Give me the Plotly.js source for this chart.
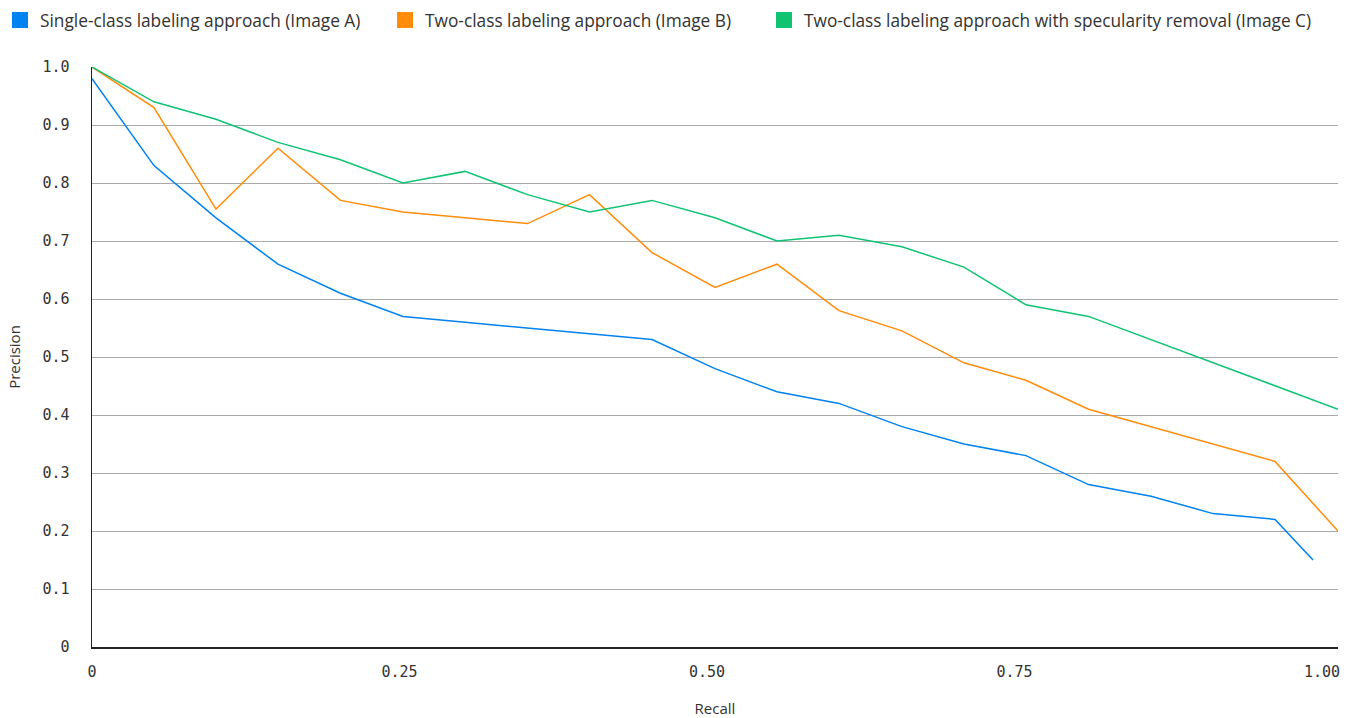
<!DOCTYPE html>
<html>
<head>
<meta charset="utf-8">
<script src="https://cdn.plot.ly/plotly-3.0.1.min.js"></script>
<style>html,body{margin:0;padding:0;background:#fff;}#chart{width:1351px;height:718px;}</style>
</head>
<body>
<div id="chart"></div>
<script>
// Recall values (x positions of the vertices)
const recall = [0, 0.0504, 0.1008, 0.1512, 0.2020, 0.2528, 0.3033, 0.3541, 0.4045, 0.4553, 0.5065, 0.5569, 0.6073, 0.6585, 0.7089, 0.7593, 0.8102, 0.8610, 0.9114, 0.9618, 1.0130];
const recallA = [0, 0.0504, 0.1008, 0.1512, 0.2020, 0.2528, 0.3033, 0.3541, 0.4045, 0.4553, 0.5065, 0.5569, 0.6073, 0.6585, 0.7089, 0.7593, 0.8102, 0.8610, 0.9114, 0.9618, 0.9927];

const precisionA = [0.98, 0.83, 0.74, 0.66, 0.61, 0.57, 0.56, 0.55, 0.54, 0.53, 0.48, 0.44, 0.42, 0.38, 0.35, 0.33, 0.28, 0.26, 0.23, 0.22, 0.15];
const precisionB = [1.00, 0.93, 0.755, 0.86, 0.77, 0.75, 0.74, 0.73, 0.78, 0.68, 0.62, 0.66, 0.58, 0.545, 0.49, 0.46, 0.41, 0.38, 0.35, 0.32, 0.20];
const precisionC = [1.00, 0.94, 0.91, 0.87, 0.84, 0.80, 0.82, 0.78, 0.75, 0.77, 0.74, 0.70, 0.71, 0.69, 0.655, 0.59, 0.57, 0.53, 0.49, 0.45, 0.41];

const seriesNames = [
  "Single-class labeling approach (Image A)",
  "Two-class labeling approach (Image B)",
  "Two-class labeling approach with specularity removal (Image C)"
];
const seriesColors = ["#0082F0", "#FF8C0A", "#0FC373"];

const xTickVals = [0, 0.25, 0.5, 0.75, 1.0];
const xTickText = ["0", "0.25", "0.50", "0.75", "1.00"];
const yTickVals = [0, 0.1, 0.2, 0.3, 0.4, 0.5, 0.6, 0.7, 0.8, 0.9, 1.0];
const yTickText = ["0", "0.1", "0.2", "0.3", "0.4", "0.5", "0.6", "0.7", "0.8", "0.9", "1.0"];

const xs = [recallA, recall, recall];
const ys = [precisionA, precisionB, precisionC];
const legendIds = ["legend", "legend2", "legend3"];
const legendX = [-0.0022, 0.2850, 0.5655];

const traces = [];
for (let i = 0; i < 3; i++) {
  traces.push({
    x: xs[i], y: ys[i], type: "scatter", mode: "lines",
    line: {color: seriesColors[i], width: 1.5},
    showlegend: false, hoverinfo: "x+y", name: seriesNames[i]
  });
}
// legend entries with square swatches, one legend box per entry
for (let i = 0; i < 3; i++) {
  traces.push({
    x: [null], y: [null], type: "scatter", mode: "markers",
    marker: {symbol: "square", size: 17, color: seriesColors[i]},
    name: seriesNames[i], showlegend: true, legend: legendIds[i]
  });
}

const tickFont = {family: "DejaVu Sans Mono, monospace", size: 15, color: "#333"};
const layout = {
  width: 1351, height: 718,
  margin: {l: 92, r: 13, t: 67, b: 71, pad: 0, autoexpand: false},
  paper_bgcolor: "#fff", plot_bgcolor: "#fff",
  font: {family: "Open Sans, sans-serif", color: "#333", size: 15},
  showlegend: true,
  xaxis: {
    range: [0, 1.013], tickvals: xTickVals, ticktext: xTickText, automargin: false,
    showgrid: false, zeroline: false, showline: true, linecolor: "#222", linewidth: 1.5,
    ticks: "", tickfont: tickFont, ticklabelstandoff: 10,
    title: {text: "Recall", font: {size: 15, color: "#333"}, standoff: 24}
  },
  yaxis: {
    range: [0, 1.0], tickvals: yTickVals, ticktext: yTickText, automargin: false,
    showgrid: true, gridcolor: "#aaa", gridwidth: 1,
    zeroline: false, showline: true, linecolor: "#222", linewidth: 1.5,
    ticks: "", tickfont: tickFont, ticklabelstandoff: 18,
    title: {text: "Precision", font: {size: 15, color: "#333"}, standoff: 18}
  }
};
for (let i = 0; i < 3; i++) {
  layout[legendIds[i]] = {
    orientation: "h", x: legendX[i], y: 0.997, xref: "container", yref: "container",
    xanchor: "left", yanchor: "top",
    font: {family: "Open Sans, sans-serif", size: 17.3, color: "#333"},
    itemsizing: "trace", bgcolor: "rgba(0,0,0,0)"
  };
}

Plotly.newPlot("chart", traces, layout, {displayModeBar: false, staticPlot: true});
</script>
</body>
</html>
